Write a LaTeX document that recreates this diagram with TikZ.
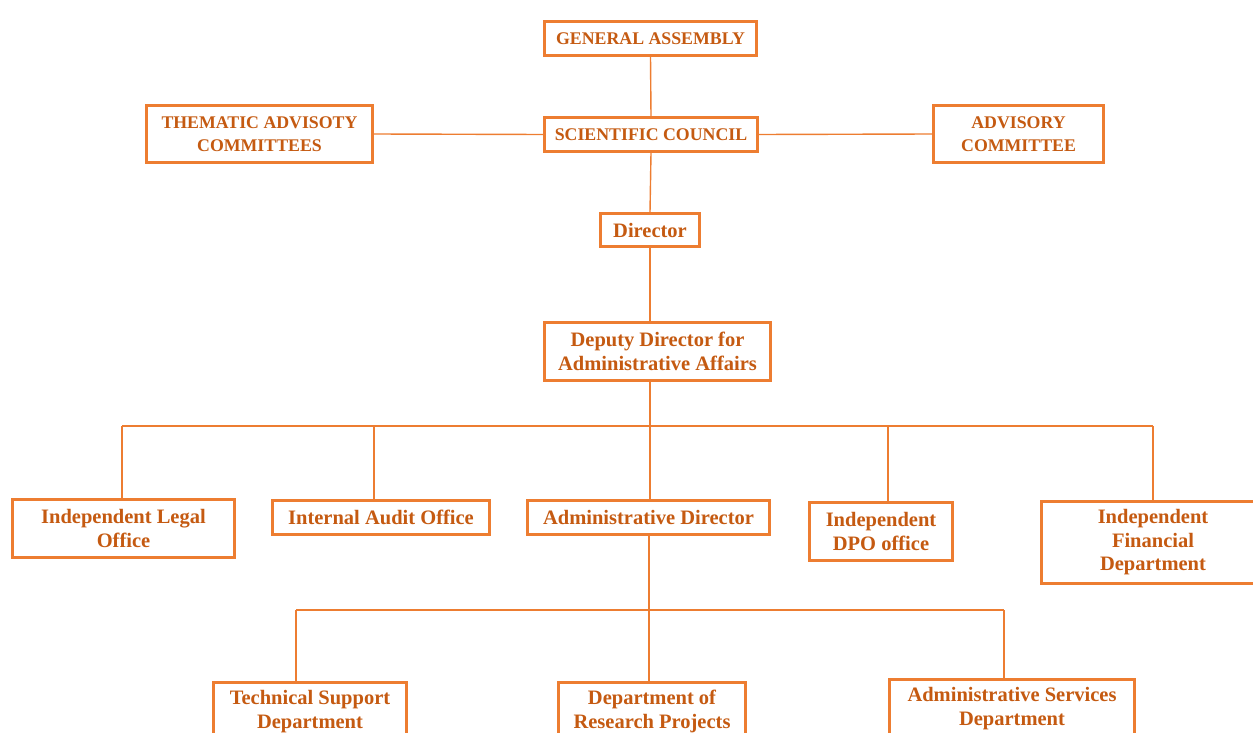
\documentclass[tikz,border=0pt]{standalone}
\usepackage{fontspec}
\setmainfont{Liberation Serif}
\definecolor{boxorange}{HTML}{ED7D31}
\definecolor{txtorange}{HTML}{C55A11}
\begin{document}
\begin{tikzpicture}[x=1pt,y=-1pt,
  box/.style={draw=boxorange, line width=2.8pt, fill=white, rectangle, inner sep=0pt,
    align=center, text=txtorange, font=\fontsize{20.5}{23.5}\selectfont\bfseries},
  capbox/.style={box, font=\fontsize{17.8}{23.5}\selectfont\bfseries},
  link/.style={draw=boxorange, line width=1.4pt}]
\useasboundingbox (0,0) rectangle (1253,733);
\clip (0,0) rectangle (1253,733);
% top
\node[capbox, minimum width=212, minimum height=34] (ga) at (650.5,38.5) {GENERAL ASSEMBLY};
\node[capbox, minimum width=213, minimum height=34] (sc) at (651,134.5) {SCIENTIFIC COUNCIL};
\node[capbox, minimum width=226, minimum height=57] (tac) at (259.5,134) {THEMATIC ADVISOTY\\COMMITTEES};
\node[capbox, minimum width=170, minimum height=57] (ac) at (1018.5,134) {ADVISORY\\COMMITTEE};
\node[box, minimum width=99, minimum height=33] (dir) at (650,230) {Director};
\node[box, minimum width=226, minimum height=58] (dep) at (657.5,351.5) {Deputy Director for\\Administrative Affairs};
% second level
\node[box, minimum width=222, minimum height=58] (ilo) at (123.5,528.5) {Independent Legal\\Office};
\node[box, minimum width=217, minimum height=34] (iao) at (381,517.5) {Internal Audit Office};
\node[box, minimum width=242, minimum height=34] (ad) at (648.5,517.5) {Administrative Director};
\node[box, minimum width=143, minimum height=58] (dpo) at (881,531.5) {Independent\\DPO office};
\node[box, minimum width=223, minimum height=82] (ifd) at (1153,542.5) {Independent\\Financial\\Department};
% third level
\node[box, minimum width=193, minimum height=58] (tsd) at (310,711.5) {Technical Support\\Department};
\node[box, minimum width=187, minimum height=58] (drp) at (652,711.5) {Department of\\Research Projects};
\node[box, minimum width=245, minimum height=58] (asd) at (1012,708.5) {Administrative Services\\Department};
% connectors top
\draw[link] (ga.south) -- (sc.north);
\draw[link] (tac.east) -- (sc.west);
\draw[link] (sc.east) -- (ac.west);
\draw[link] (sc.south) -- (dir.north);
\draw[link] (dir.south) -- (dir.south |- dep.north);
% first bus
\coordinate (b1) at (122,426);
\coordinate (b2) at (374,426);
\coordinate (b4) at (888,426);
\coordinate (b5) at (1153,426);
\draw[link] (b1) -- (b5);
\draw[link] (dir.south |- dep.south) -- (dir.south |- ad.north);
\draw[link] (b1) -- (b1 |- ilo.north);
\draw[link] (b2) -- (b2 |- iao.north);
\draw[link] (b4) -- (b4 |- dpo.north);
\draw[link] (b5) -- (b5 |- ifd.north);
% second bus
\coordinate (c1) at (296,610);
\coordinate (c2) at (649,610);
\coordinate (c3) at (1004,610);
\draw[link] (c1) -- (c3);
\draw[link] (c2 |- ad.south) -- (c2);
\draw[link] (c1) -- (c1 |- tsd.north);
\draw[link] (c2) -- (c2 |- drp.north);
\draw[link] (c3) -- (c3 |- asd.north);
\end{tikzpicture}
\end{document}
